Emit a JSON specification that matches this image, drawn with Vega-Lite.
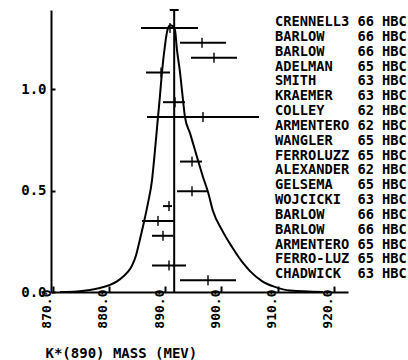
{
  "$schema": "https://vega.github.io/schema/vega-lite/v6.json",
  "width": 297,
  "height": 282,
  "autosize": {"type": "none"},
  "padding": {"left": 51, "top": 10, "right": 60, "bottom": 68},
  "background": "white",
  "config": {
    "view": {"stroke": null},
    "font": "DejaVu Sans Mono",
    "axis": {"labelFont": "DejaVu Sans Mono", "titleFont": "DejaVu Sans Mono", "labelFontWeight": "bold", "titleFontWeight": "bold", "labelColor": "black", "titleColor": "black", "domainColor": "black", "tickColor": "black", "grid": false}
  },
  "datasets": {
    "curve": [
      {"m": 871.3, "d": 0.0}, {"m": 874.32, "d": 0.003}, {"m": 876.63, "d": 0.010}, {"m": 878.41, "d": 0.020},
      {"m": 880.19, "d": 0.035}, {"m": 881.43, "d": 0.052}, {"m": 882.5, "d": 0.075}, {"m": 883.39, "d": 0.100},
      {"m": 884.1, "d": 0.130}, {"m": 884.81, "d": 0.180}, {"m": 885.52, "d": 0.260}, {"m": 886.23, "d": 0.345},
      {"m": 886.94, "d": 0.438}, {"m": 887.66, "d": 0.552}, {"m": 888.19, "d": 0.700}, {"m": 888.72, "d": 0.862},
      {"m": 889.08, "d": 0.970}, {"m": 889.43, "d": 1.084}, {"m": 889.97, "d": 1.217}, {"m": 890.32, "d": 1.281},
      {"m": 890.86, "d": 1.315}, {"m": 891.39, "d": 1.310}, {"m": 891.74, "d": 1.291}, {"m": 892.1, "d": 1.192},
      {"m": 892.63, "d": 1.084}, {"m": 893.17, "d": 0.946}, {"m": 893.52, "d": 0.862}, {"m": 894.41, "d": 0.783},
      {"m": 895.66, "d": 0.665}, {"m": 896.72, "d": 0.567}, {"m": 897.61, "d": 0.493}, {"m": 898.5, "d": 0.399},
      {"m": 900.1, "d": 0.305}, {"m": 901.88, "d": 0.222}, {"m": 903.83, "d": 0.143}, {"m": 905.08, "d": 0.103},
      {"m": 907.21, "d": 0.054}, {"m": 909.52, "d": 0.025}, {"m": 912.19, "d": 0.007}, {"m": 918.06, "d": 0.0}
    ],
    "avg": [{"mean": 891.6, "lo": 890.8, "hi": 892.4, "top": 1.39}],
    "bars": [
      {"row": 1, "lo": 885.7, "c": 890.86, "hi": 895.83},
      {"row": 2, "lo": 892.63, "c": 896.54, "hi": 900.81},
      {"row": 3, "lo": 894.59, "c": 898.68, "hi": 902.77},
      {"row": 4, "lo": 886.59, "c": 889.26, "hi": 890.86},
      {"row": 6, "lo": 889.61, "c": 891.74, "hi": 893.52},
      {"row": 7, "lo": 886.77, "c": 896.72, "hi": 906.68},
      {"row": 10, "lo": 892.63, "c": 894.77, "hi": 896.54},
      {"row": 12, "lo": 892.1, "c": 894.77, "hi": 897.43},
      {"row": 13, "lo": 889.61, "c": 890.68, "hi": 891.21},
      {"row": 14, "lo": 885.88, "c": 888.72, "hi": 891.57},
      {"row": 15, "lo": 887.66, "c": 889.61, "hi": 891.39},
      {"row": 17, "lo": 887.66, "c": 890.68, "hi": 893.7},
      {"row": 18, "lo": 892.63, "c": 897.61, "hi": 902.59}
    ],
    "refs": [
      {"row": 1, "ref": "CRENNELL3\u00a066\u00a0HBC", "xpos": 909.52},
      {"row": 2, "ref": "BARLOW\u00a0\u00a0\u00a0\u00a066\u00a0HBC", "xpos": 909.52},
      {"row": 3, "ref": "BARLOW\u00a0\u00a0\u00a0\u00a066\u00a0HBC", "xpos": 909.52},
      {"row": 4, "ref": "ADELMAN\u00a0\u00a0\u00a065\u00a0HBC", "xpos": 909.52},
      {"row": 5, "ref": "SMITH\u00a0\u00a0\u00a0\u00a0\u00a063\u00a0HBC", "xpos": 909.52},
      {"row": 6, "ref": "KRAEMER\u00a0\u00a0\u00a063\u00a0HBC", "xpos": 909.52},
      {"row": 7, "ref": "COLLEY\u00a0\u00a0\u00a0\u00a062\u00a0HBC", "xpos": 909.52},
      {"row": 8, "ref": "ARMENTERO\u00a062\u00a0HBC", "xpos": 909.52},
      {"row": 9, "ref": "WANGLER\u00a0\u00a0\u00a065\u00a0HBC", "xpos": 909.52},
      {"row": 10, "ref": "FERROLUZZ\u00a065\u00a0HBC", "xpos": 909.52},
      {"row": 11, "ref": "ALEXANDER\u00a062\u00a0HBC", "xpos": 909.52},
      {"row": 12, "ref": "GELSEMA\u00a0\u00a0\u00a065\u00a0HBC", "xpos": 909.52},
      {"row": 13, "ref": "WOJCICKI\u00a0\u00a063\u00a0HBC", "xpos": 909.52},
      {"row": 14, "ref": "BARLOW\u00a0\u00a0\u00a0\u00a066\u00a0HBC", "xpos": 909.52},
      {"row": 15, "ref": "BARLOW\u00a0\u00a0\u00a0\u00a066\u00a0HBC", "xpos": 909.52},
      {"row": 16, "ref": "ARMENTERO\u00a065\u00a0HBC", "xpos": 909.52},
      {"row": 17, "ref": "FERRO-LUZ\u00a065\u00a0HBC", "xpos": 909.52},
      {"row": 18, "ref": "CHADWICK\u00a0\u00a063\u00a0HBC", "xpos": 909.52}
    ]
  },
  "layer": [
    {
      "layer": [
        {
          "data": {"name": "curve"},
          "mark": {"type": "line", "color": "black", "strokeWidth": 2, "interpolate": "monotone"},
          "encoding": {
            "x": {"field": "m", "type": "quantitative", "scale": {"domain": [869.7, 922.5], "nice": false, "zero": false},
              "axis": {"values": [870, 880, 890, 900, 910, 920], "format": ".1f", "labelAngle": -90, "labelFontSize": 13, "labelPadding": 3, "labelOffset": -6, "tickSize": -6, "tickWidth": 2, "domainWidth": 2, "title": "K*(890) MASS (MEV)", "titleFontSize": 14, "titleAnchor": "start", "titleAlign": "left", "titleX": -6, "titleY": 61, "titleBaseline": "middle"}},
            "y": {"field": "d", "type": "quantitative", "scale": {"domain": [0, 1.39], "nice": false},
              "axis": {"values": [0, 0.5, 1.0], "format": ".1f", "labelFontSize": 14, "labelPadding": 9, "tickSize": -4, "tickWidth": 2, "domainWidth": 2, "title": null}}
          }
        },
        {
          "data": {"name": "avg"},
          "mark": {"type": "rule", "color": "black", "strokeWidth": 2},
          "encoding": {"x": {"field": "mean", "type": "quantitative"}}
        },
        {
          "data": {"name": "avg"},
          "mark": {"type": "rule", "color": "black", "strokeWidth": 2},
          "encoding": {
            "x": {"field": "lo", "type": "quantitative"},
            "x2": {"field": "hi"},
            "y": {"field": "top", "type": "quantitative"}
          }
        }
      ]
    },
    {
      "layer": [
        {
          "data": {"name": "bars"},
          "mark": {"type": "rule", "color": "black", "strokeWidth": 2},
          "encoding": {
            "x": {"field": "lo", "type": "quantitative"},
            "x2": {"field": "hi"},
            "y": {"field": "row", "type": "ordinal", "scale": {"type": "point", "domain": [1,2,3,4,5,6,7,8,9,10,11,12,13,14,15,16,17,18], "padding": 1, "align": 0.606}, "axis": null}
          }
        },
        {
          "data": {"name": "bars"},
          "mark": {"type": "tick", "color": "black", "size": 10, "thickness": 2, "orient": "vertical"},
          "encoding": {
            "x": {"field": "c", "type": "quantitative"},
            "y": {"field": "row", "type": "ordinal"}
          }
        },
        {
          "data": {"name": "refs"},
          "mark": {"type": "text", "align": "left", "baseline": "middle", "dy": -6, "font": "DejaVu Sans Mono", "fontWeight": "bold", "fontSize": 13.7, "color": "black"},
          "encoding": {
            "x": {"field": "xpos", "type": "quantitative"},
            "y": {"field": "row", "type": "ordinal"},
            "text": {"field": "ref"}
          }
        }
      ]
    }
  ],
  "resolve": {"scale": {"y": "independent"}}
}
